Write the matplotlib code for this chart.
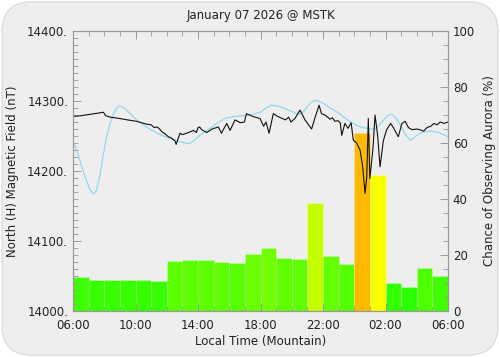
import numpy as np
import matplotlib
matplotlib.use("Agg")
import matplotlib.pyplot as plt
from matplotlib.colors import LinearSegmentedColormap
from matplotlib.patches import FancyBboxPatch

# hourly aurora chance (%), 06:00 -> 06:00 next day
aurora_pct = [12.1, 11.2, 11.0, 11.0, 10.9, 10.8, 18.0, 18.1, 18.1, 17.6,
              17.3, 20.5, 22.6, 18.9, 18.6, 38.5, 19.6, 16.8, 63.5, 48.6,
              10.1, 8.7, 15.5, 12.5]

# measured H field (hours since 06:00, nT)
field_hours = [0.0, 0.5, 1.09, 1.4, 1.94, 2.1, 2.37, 3.0, 3.5, 4.07, 4.7,
               5.0, 5.2, 5.36, 5.5, 5.7, 5.9, 6.0, 6.1, 6.3, 6.53, 6.6,
               6.85, 7.0, 7.28, 7.5, 7.7, 7.9, 8.0, 8.1, 8.24, 8.56, 8.9,
               9.3, 9.5, 9.84, 10.05, 10.37, 10.7, 10.97, 11.1, 11.5, 11.97,
               12.2, 12.35, 12.55, 12.82, 13.1, 13.4, 13.6, 13.8, 13.95, 14.2,
               14.53, 14.85, 15.27, 15.5, 15.75, 15.9, 16.13, 16.3, 16.45,
               16.6, 16.77, 16.95, 17.1, 17.2, 17.4, 17.6, 17.8, 17.94, 18.15,
               18.37, 18.54, 18.69, 18.8, 18.9, 19.0, 19.2, 19.33, 19.5,
               19.65, 19.86, 20.07, 20.33, 20.5, 20.82, 21.05, 21.26, 21.47,
               21.7, 22.0, 22.2, 22.44, 22.65, 22.9, 23.1, 23.3, 23.5, 23.75,
               24.0]
field_nt = [14278, 14279, 14281, 14282, 14284, 14279, 14277, 14275, 14273,
            14271, 14267, 14266, 14262, 14263, 14261, 14256, 14253, 14251,
            14249, 14247, 14243, 14238, 14254, 14252, 14254, 14256, 14258,
            14255, 14262, 14263, 14259, 14255, 14260, 14263, 14254, 14268,
            14258, 14273, 14269, 14270, 14282, 14278, 14275, 14264, 14270,
            14254, 14282, 14278, 14275, 14273, 14277, 14270, 14275, 14287,
            14273, 14260, 14277, 14294, 14282, 14280, 14277, 14274, 14276,
            14271, 14272, 14269, 14251, 14268, 14261, 14269, 14244, 14240,
            14230, 14206, 14168, 14191, 14275, 14189, 14233, 14280, 14250,
            14206, 14243, 14259, 14268, 14262, 14249, 14268, 14271, 14262,
            14259, 14260, 14259, 14257, 14262, 14264, 14268, 14266, 14270,
            14268, 14270]

# quiet-day reference curve
quiet_hours = [0.0, 0.2, 0.43, 0.65, 0.87, 1.05, 1.3, 1.5, 1.73, 1.95, 2.15,
               2.4, 2.6, 2.8, 2.97, 3.2, 3.44, 3.75, 4.07, 4.5, 4.9, 5.3,
               5.78, 6.2, 6.6, 7.0, 7.4, 7.75, 8.1, 8.66, 9.2, 9.73, 10.3,
               11.0, 11.5, 12.0, 12.35, 12.7, 13.1, 13.6, 14.0, 14.42, 14.7,
               15.0, 15.25, 15.45, 15.7, 16.0, 16.4, 16.87, 17.4, 17.94,
               18.25, 18.58, 19.0, 19.33, 19.65, 19.97, 20.2, 20.4, 20.7,
               20.95, 21.25, 21.57, 21.9, 22.2, 22.5, 22.85, 23.2, 23.5, 24.0]
quiet_nt = [14244, 14232, 14216, 14200, 14186, 14175, 14167, 14172, 14195,
            14225, 14249, 14270, 14282, 14290, 14293, 14291, 14287, 14280,
            14273, 14266, 14260, 14255, 14250, 14247, 14244, 14241, 14239,
            14243, 14251, 14259, 14268, 14275, 14278, 14279, 14281, 14284,
            14290, 14294, 14293, 14289, 14285, 14281, 14284, 14292, 14298,
            14301, 14300, 14297, 14291, 14285, 14276, 14268, 14264, 14262,
            14260, 14260, 14267, 14275, 14280, 14281, 14275, 14266, 14253,
            14244, 14249, 14254, 14256, 14257, 14256, 14254, 14249]

tick_hours = [0, 4, 8, 12, 16, 20, 24]
tick_labels = ["06:00", "10:00", "14:00", "18:00", "22:00", "02:00", "06:00"]

bg = "#eeeeee"
txt = "#222222"
spine = "#999999"

fig = plt.figure(figsize=(5.0, 3.57), dpi=100, facecolor="white")
frame = FancyBboxPatch((0.004, 0.005), 0.992, 0.99,
                       boxstyle="round,pad=0,rounding_size=0.06",
                       transform=fig.transFigure, facecolor=bg,
                       edgecolor="#d8d8d8", linewidth=0.8,
                       mutation_aspect=500 / 357, zorder=-10)
fig.patches.append(frame)

ax2 = fig.add_axes([0.146, 0.129, 0.75, 0.784])
ax = ax2.twinx()
ax.yaxis.tick_left()
ax.yaxis.set_label_position("left")
ax2.yaxis.tick_right()
ax2.yaxis.set_label_position("right")
ax2.set_facecolor(bg)
ax.patch.set_visible(False)

cmap = LinearSegmentedColormap.from_list("aur", ["#00ff00", "#ffff00", "#ff0000"])
colors = cmap(np.array(aurora_pct) / 100.0)
ax2.bar(np.arange(24) + 0.5, aurora_pct, width=1.0, color=colors,
        edgecolor=(1, 1, 1, 0.25), linewidth=0.6)
ax2.set_ylim(0, 100)
ax2.set_xlim(0, 24)

ax.plot(quiet_hours, quiet_nt, color="#8fd8ef", linewidth=0.9)
ax.plot(field_hours, field_nt, color="#111111", linewidth=0.8)
ax.set_ylim(14000, 14400)
ax.set_xlim(0, 24)

ax.set_yticks([14000, 14100, 14200, 14300, 14400])
ax.set_yticklabels(["14000.", "14100.", "14200.", "14300.", "14400."])
ax.set_yticks(np.arange(14000, 14401, 10), minor=True)
ax2.set_yticks([0, 20, 40, 60, 80, 100])
ax2.set_yticks(np.arange(0, 101, 5), minor=True)
ax2.set_xticks(tick_hours)
ax2.set_xticklabels(tick_labels)
ax2.set_xticks(np.arange(0, 25, 1), minor=True)

for a in (ax, ax2):
    for s in a.spines.values():
        s.set_color(spine)
        s.set_linewidth(0.8)
    a.tick_params(which="both", direction="in", colors=spine, labelcolor=txt,
                  labelsize=8.5, top=True)
    a.tick_params(which="major", length=6, width=0.7)
    a.tick_params(which="minor", length=3.5, width=0.6)
ax.tick_params(axis="y", which="both", right=False)
ax2.tick_params(axis="y", which="both", left=False)
ax2.tick_params(axis="x", pad=6)

ax.set_ylabel("North (H) Magnetic Field (nT)", fontsize=8.5, color=txt, labelpad=6)
ax2.set_ylabel("Chance of Observing Aurora (%)", fontsize=8.5, color=txt, labelpad=6)
ax2.set_xlabel("Local Time (Mountain)", fontsize=8.5, color=txt, labelpad=2)
ax2.set_title("January 07 2026 @ MSTK", fontsize=8.5, color=txt, pad=9)

fig.savefig("out.png", dpi=100, facecolor="white")
